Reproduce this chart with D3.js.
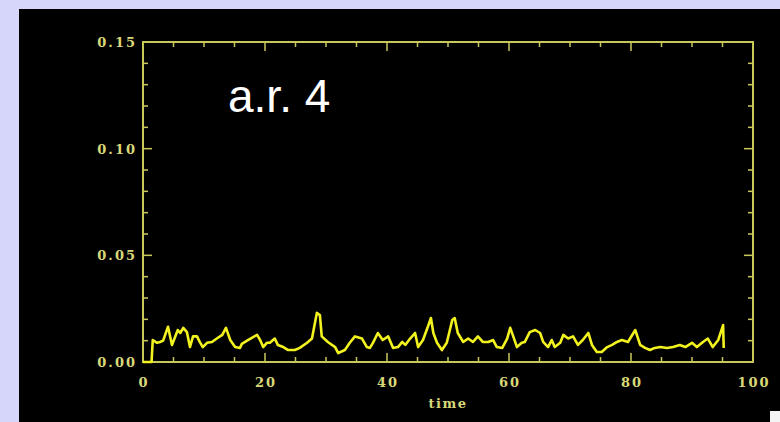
<!DOCTYPE html>
<html><head><meta charset="utf-8">
<script src="https://cdn.jsdelivr.net/npm/d3@7"></script>
<style>html,body{margin:0;padding:0;background:#d6d6fa;}svg{display:block;}</style>
</head><body>
<svg id="c" width="780" height="422"></svg>
<script>
const times = [0,1.4,1.6,2.3,2.8,3.3,4.1,4.75,5.7,6.1,6.6,7.2,7.7,8.2,8.85,9.3,9.8,10.5,11.3,12.1,13,13.6,14.3,15.1,15.9,16.2,17.2,18.7,19.2,19.7,20.3,20.8,21.6,22.1,23,23.8,24.9,25.7,26.9,27.7,28.5,29,29.3,30.3,31.5,32,33.1,33.9,34.75,35.9,36.7,37.2,37.7,38.5,39.3,40.2,41,41.8,42.5,43,43.8,44.6,45.1,45.9,46.7,47.2,47.6,48.2,49,49.8,50.7,51.1,51.6,52.5,53.3,54.1,54.9,55.7,56.6,57.4,58,58.9,59.7,60.2,60.7,61.3,62.1,62.6,63.4,64.3,65.1,65.6,66.4,67,67.5,68.4,68.9,69.7,70.5,71.3,72.1,73,73.6,74.4,75.2,76.1,76.9,77.7,78.5,79.5,80.7,81.5,82.3,83.1,83.9,84.8,85.9,86.9,88,88.9,90,90.8,91.8,92.6,93.4,94.3,95.1,95.2];
const values = [0,0,0.0103,0.009,0.0094,0.010,0.0165,0.008,0.015,0.0136,0.016,0.014,0.007,0.012,0.012,0.0094,0.007,0.009,0.0094,0.011,0.0127,0.016,0.0103,0.007,0.0066,0.0085,0.0103,0.0127,0.0103,0.007,0.009,0.009,0.011,0.008,0.007,0.0056,0.0056,0.0066,0.009,0.011,0.023,0.022,0.012,0.0094,0.007,0.0042,0.0056,0.009,0.012,0.011,0.007,0.0066,0.009,0.0136,0.0103,0.012,0.0066,0.007,0.0094,0.008,0.011,0.0136,0.007,0.0103,0.0165,0.0206,0.0136,0.009,0.0056,0.009,0.0197,0.0206,0.0136,0.0094,0.011,0.0094,0.012,0.0094,0.0094,0.0103,0.007,0.0066,0.011,0.016,0.012,0.007,0.009,0.0094,0.014,0.015,0.0136,0.0094,0.007,0.0103,0.007,0.009,0.0127,0.011,0.012,0.008,0.0103,0.0136,0.008,0.0047,0.0047,0.007,0.008,0.0094,0.0103,0.0094,0.015,0.008,0.0066,0.0056,0.0066,0.007,0.0066,0.007,0.008,0.007,0.009,0.007,0.0094,0.011,0.007,0.0103,0.0173,0.0066];
const xTicks = [0,20,40,60,80,100];
const yTicks = [0.00,0.05,0.10,0.15];
const xMinor = d3.range(0,100.1,5);
const yMinor = d3.range(0,0.1501,0.01);
const title = "a.r. 4";
const xTitle = "time";

const svg = d3.select("#c");
svg.append("rect").attr("x",19).attr("y",9).attr("width",761).attr("height",413).attr("fill","#000");
svg.append("rect").attr("x",770).attr("y",411).attr("width",10).attr("height",11).attr("fill","#f4f4f4");

const L=143,R=753,T=42,B=362;
const x = d3.scaleLinear().domain([0,100]).range([L,R]);
const y = d3.scaleLinear().domain([0,0.15]).range([B,T]);
const axisCol = "#c8c85a", labCol = "#d8d878";
const font = "'DejaVu Serif', serif";

const g = svg.append("g");
g.append("rect").attr("x",L).attr("y",T).attr("width",R-L).attr("height",B-T)
 .attr("fill","none").attr("stroke",axisCol).attr("stroke-width",2);

function isMajorX(v){return Math.abs(v%20)<1e-6;}
function isMajorY(v){return Math.abs(Math.round(v*100)%5)<1e-6;}
xMinor.forEach(v=>{
  const len = isMajorX(v)?9:5;
  g.append("line").attr("x1",x(v)).attr("x2",x(v)).attr("y1",B).attr("y2",B-len).attr("stroke",axisCol).attr("stroke-width",1.5);
  g.append("line").attr("x1",x(v)).attr("x2",x(v)).attr("y1",T).attr("y2",T+len).attr("stroke",axisCol).attr("stroke-width",1.5);
});
yMinor.forEach(v=>{
  const len = isMajorY(v)?9:5;
  g.append("line").attr("x1",L).attr("x2",L+len).attr("y1",y(v)).attr("y2",y(v)).attr("stroke",axisCol).attr("stroke-width",1.5);
  g.append("line").attr("x1",R).attr("x2",R-len).attr("y1",y(v)).attr("y2",y(v)).attr("stroke",axisCol).attr("stroke-width",1.5);
});

g.selectAll(".xl").data(xTicks).enter().append("text")
 .attr("x",d=>x(d)+1).attr("y",387).attr("text-anchor","middle")
 .attr("fill",labCol).attr("font-family",font).attr("font-weight","bold").attr("font-size",13)
 .attr("letter-spacing",2).text(d=>d);
g.selectAll(".yl").data(yTicks).enter().append("text")
 .attr("x",137).attr("y",d=>y(d)+5).attr("text-anchor","end")
 .attr("fill",labCol).attr("font-family",font).attr("font-weight","bold").attr("font-size",13)
 .attr("letter-spacing",2).text(d=>d3.format(".2f")(d));
g.append("text").attr("x",(L+R)/2).attr("y",408).attr("text-anchor","middle")
 .attr("fill",labCol).attr("font-family",font).attr("font-weight","bold").attr("font-size",13)
 .attr("letter-spacing",1.5).text(xTitle);

const line = d3.line().x((d,i)=>x(times[i])).y(d=>y(d));
g.append("path").datum(values).attr("d",line).attr("fill","none")
 .attr("stroke","#f2f21e").attr("stroke-width",2.6).attr("stroke-linejoin","round");

svg.append("text").attr("x",228).attr("y",112).attr("fill","#ffffff")
 .attr("font-family","'Liberation Sans', Arial, sans-serif").attr("font-size",46).text(title);
</script>
</body></html>
